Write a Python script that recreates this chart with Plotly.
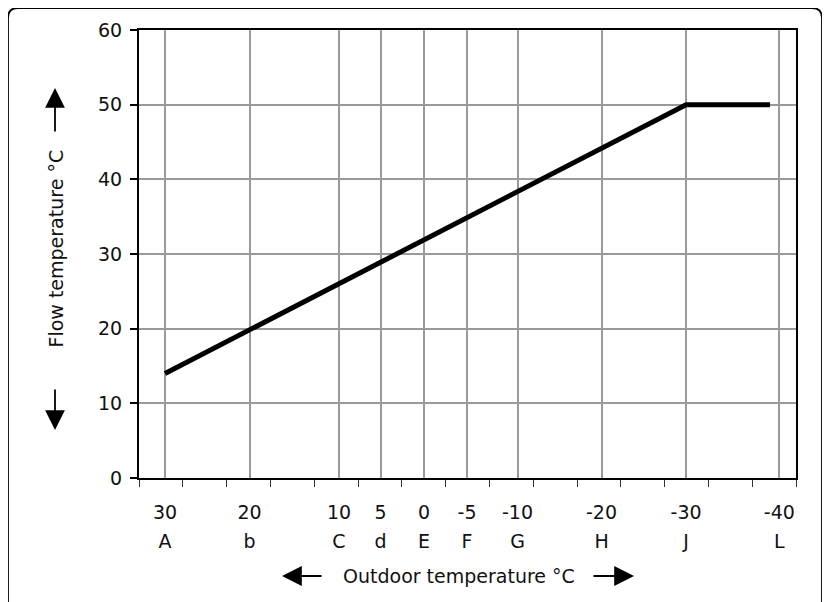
import numpy as np
import plotly.graph_objects as go

# ---- data ----
outdoor_temps = [30, 20, 10, 5, 0, -5, -10, -20, -30, -40]
curve_letters = ["A", "b", "C", "d", "E", "F", "G", "H", "J", "L"]
curve_outdoor = [30, -30, -39]
curve_flow = [14, 50, 50]
flow_ticks = [0, 10, 20, 30, 40, 50, 60]

# ---- axis scale (non-uniform outdoor axis, in grid units 0..15) ----
AXIS_POS = [0.594, 2.523, 4.566, 5.514, 6.507, 7.489, 8.642, 10.56, 12.49, 14.62]

def to_axis(t):
    xp = np.array(outdoor_temps[::-1], dtype=float)
    fp = np.array(AXIS_POS[::-1], dtype=float)
    return np.interp(np.asarray(t, dtype=float), xp, fp)

OFF = 8  # page body margin
W, H = 830 - OFF, 602 - OFF
PW, PH = 657, 448
L, T = 139 - OFF, 30 - OFF
R, B = W - L - PW, H - T - PH

def px(x):
    return (x - OFF - L) / PW

def py(y):
    return (T + PH - (y - OFF)) / PH

FONT = "DejaVu Sans"
xs = to_axis(curve_outdoor)

fig = go.Figure()
fig.add_trace(go.Scatter(x=xs, y=curve_flow, mode="lines",
                         line=dict(color="black", width=5),
                         hoverinfo="skip", showlegend=False))
fig.add_trace(go.Scatter(x=xs, y=curve_flow, mode="lines", xaxis="x2",
                         line=dict(color="rgba(0,0,0,0)", width=0),
                         hoverinfo="skip", showlegend=False))

grid = "#9a9a9a"
fig.update_layout(
    width=W, height=H,
    margin=dict(l=L, r=R, t=T, b=B),
    paper_bgcolor="white", plot_bgcolor="white",
    font=dict(family=FONT, size=19, color="#111"),
    xaxis=dict(range=[0, 15], tickmode="array", tickvals=list(AXIS_POS),
               ticktext=[str(v) for v in outdoor_temps], ticks="",
               showgrid=True, gridcolor=grid, gridwidth=1.5,
               showline=True, linecolor="black", linewidth=2, mirror=True,
               zeroline=False, ticklabelstandoff=16,
               minor=dict(tickmode="linear", tick0=0, dtick=1, ticks="outside",
                          ticklen=7, tickcolor="#333", tickwidth=1.2, showgrid=False)),
    xaxis2=dict(range=[0, 15], overlaying="x", anchor="y", side="bottom",
                tickmode="array", tickvals=list(AXIS_POS), ticktext=curve_letters,
                ticks="", showgrid=False, showline=False, zeroline=False,
                ticklabelstandoff=50),
    yaxis=dict(range=[0, 60], tickmode="array", tickvals=flow_ticks,
               ticks="outside", ticklen=7, tickcolor="black", tickwidth=1.5,
               showgrid=True, gridcolor=grid, gridwidth=1.5,
               showline=True, linecolor="black", linewidth=2, mirror=True,
               zeroline=False, ticklabelstandoff=4),
)

# outer rounded frame
x0, y0, x1, y1, r = 8, 8, 822, 614, 10
path = (f"M {px(x0)},{py(y0 + r)} L {px(x0)},{py(y1)} "
        f"M {px(x0)},{py(y0 + r)} Q {px(x0)},{py(y0)} {px(x0 + r)},{py(y0)} "
        f"L {px(x1 - r)},{py(y0)} Q {px(x1)},{py(y0)} {px(x1)},{py(y0 + r)} "
        f"L {px(x1)},{py(y1)}")
fig.add_shape(type="path", path=path, xref="paper", yref="paper",
              line=dict(color="black", width=1.8), layer="above")

# axis titles
fig.add_annotation(text="Flow temperature °C", x=px(55), y=py(248.5),
                   xref="paper", yref="paper", textangle=-90, showarrow=False,
                   xanchor="center", yanchor="middle", font=dict(size=19))
fig.add_annotation(text="Outdoor temperature °C", x=px(459), y=py(576),
                   xref="paper", yref="paper", showarrow=False,
                   xanchor="center", yanchor="middle", font=dict(size=19))

# arrows next to titles (tip, tail offset in px)
for tip, off in [((55, 88), (0, 45)), ((55, 430), (0, -42)),
                 ((282, 576), (41, 0)), ((634, 576), (-42, 0))]:
    fig.add_annotation(text="", x=px(tip[0]), y=py(tip[1]), xref="paper", yref="paper",
                       ax=off[0], ay=off[1], showarrow=True, arrowhead=2,
                       arrowsize=2.2, arrowwidth=1.8, arrowcolor="black")

fig.write_html("out.html")
